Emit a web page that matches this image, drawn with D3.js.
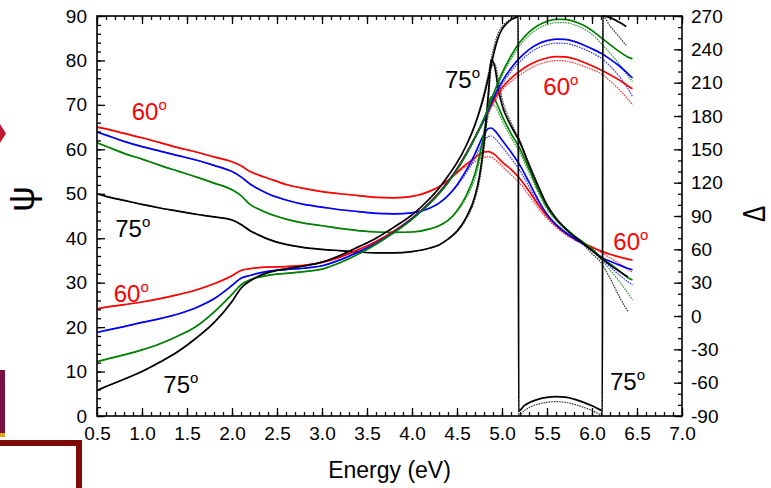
<!DOCTYPE html>
<html>
<head>
<meta charset="utf-8">
<script src="https://cdn.jsdelivr.net/npm/d3@7"></script>
<style>
  html, body { margin: 0; padding: 0; background: #fff; }
  svg { display: block; }
  text { font-family: "Liberation Sans", Arial, sans-serif; }
</style>
</head>
<body>
<svg id="chart" width="771" height="488"></svg>
<script>
// ---------------- DATA ----------------
const energy = [0.5,0.6,0.8,1.0,1.2,1.4,1.6,1.8,2.0,2.1,2.2,2.3,2.4,2.6,2.8,3.0,3.2,3.4,3.6,3.8,4.0,4.2,4.3,4.4,4.5,4.6,4.7,4.75,4.8,4.85,4.88,4.92,4.96,5.0,5.1,5.2,5.3,5.4,5.5,5.6,5.7,5.8,5.9,6.0,6.1,6.2,6.3,6.4,6.45];

// Psi, model (solid)
const psi60 = [65.0,64.6,63.6,62.6,61.5,60.4,59.4,58.3,57.2,56.3,55.0,54.2,53.5,52.1,51.2,50.5,50.0,49.6,49.2,49.1,49.4,50.6,51.6,53.0,54.8,56.6,58.1,58.9,59.4,59.5,59.3,58.8,58.0,57.2,55.5,53.4,50.6,47.6,45.0,42.9,41.2,39.9,38.9,38.0,37.1,36.4,35.8,35.3,35.1];
const psi65 = [63.9,63.2,61.8,60.6,59.6,58.6,57.6,56.4,55.0,53.8,52.2,51.0,50.0,48.6,47.6,47.0,46.4,46.0,45.6,45.5,45.7,46.8,47.9,49.6,52.0,55.2,59.0,61.3,63.4,64.7,64.8,64.2,63.2,62.1,59.4,56.4,52.6,48.7,45.4,43.1,41.4,40.0,38.8,37.5,35.8,34.8,34.0,33.2,32.9];
const psi70 = [61.5,60.7,59.1,57.8,56.4,55.1,53.8,52.4,50.9,49.6,47.6,46.5,45.6,44.3,43.4,42.8,42.2,41.7,41.4,41.3,41.4,42.1,42.8,44.0,46.2,49.5,54.5,58.5,63.8,69.5,71.8,71.2,69.5,67.6,63.6,60.1,55.6,51.0,47.0,44.3,42.3,40.6,39.1,37.6,35.6,34.2,32.7,31.1,30.6];
const psi75 = [50.0,49.4,48.5,47.6,46.8,46.1,45.4,44.8,44.1,43.1,41.7,40.7,39.8,38.6,37.9,37.5,37.2,36.9,36.7,36.7,37.0,37.8,38.5,39.8,41.6,44.6,49.5,54.0,61.5,73.0,80.2,78.5,73.5,70.0,65.3,61.5,56.5,51.8,47.5,44.5,42.3,40.5,38.9,37.2,35.6,34.0,32.6,31.3,null];

// Psi, experiment (dotted)
const psi60Exp = [65.0,64.6,63.6,62.6,61.5,60.4,59.4,58.3,57.2,56.3,55.0,54.2,53.5,52.1,51.2,50.5,50.0,49.6,49.2,49.1,49.4,50.6,51.6,53.0,54.6,56.2,57.2,57.9,58.2,58.3,58.2,57.7,57.0,56.2,54.3,52.3,49.6,46.8,44.4,42.5,40.9,39.7,38.7,37.8,36.8,35.6,34.3,33.0,32.3];
const psi65Exp = [63.9,63.2,61.8,60.6,59.6,58.6,57.6,56.4,55.0,53.8,52.2,51.0,50.0,48.6,47.6,47.0,46.4,46.0,45.6,45.5,45.7,46.8,47.9,49.6,51.8,54.6,58.0,60.0,61.8,62.9,63.0,62.5,61.6,60.6,58.0,55.2,51.6,48.0,45.0,42.8,41.2,39.8,38.6,37.2,35.4,33.6,31.8,30.2,29.5];
const psi70Exp = [61.5,60.7,59.1,57.8,56.4,55.1,53.8,52.4,50.9,49.6,47.6,46.5,45.6,44.3,43.4,42.8,42.2,41.7,41.4,41.3,41.4,42.1,42.8,44.0,46.0,49.0,53.5,57.3,62.3,67.8,70.0,69.8,68.3,66.5,62.7,59.2,54.8,50.4,46.6,44.0,42.0,40.3,38.8,37.2,35.2,32.9,30.4,27.6,26.1];
const psi75Exp = [50.0,49.4,48.5,47.6,46.8,46.1,45.4,44.8,44.1,43.1,41.7,40.7,39.8,38.6,37.9,37.5,37.2,36.9,36.7,36.7,37.0,37.8,38.5,39.8,41.4,44.2,48.8,53.0,60.0,71.0,78.2,79.3,75.5,71.5,66.0,62.0,56.8,52.0,47.6,44.5,42.2,40.3,38.6,36.5,34.5,31.0,27.0,23.5,null];

// Delta, model (solid)
const delta60 = [6.5,8.0,10.2,12.6,15.6,19.2,23.4,29.0,36.2,41.0,42.6,43.6,44.0,44.5,45.6,48.2,53.0,59.5,67.0,76.5,88.0,102.5,111,121,132.5,146,161,169,177,185,190,196,201,205.5,214,220.5,225.8,229.7,232.2,233.4,233.2,231.5,228.6,225.2,221.4,217.2,212.5,207.0,204.5];
const delta65 = [-14.8,-13.0,-9.5,-5.8,-2.4,1.8,7.5,15.5,27.5,34.0,36.5,38.6,40.2,41.8,43.0,45.2,50.5,57.5,65.5,75.5,87.5,102,110.5,120.5,132,145.5,160.5,168.5,177,186,191.5,198.5,205,211,223,232.5,239.8,244.8,247.8,249.2,249.0,247.2,244.2,240.5,236.4,231.2,225.2,218.0,214.2];
const delta70 = [-41.0,-39.0,-35.0,-30.5,-25.0,-18.0,-9.5,3.5,19.5,28.0,32.5,35.0,36.6,38.3,39.9,42.2,48.0,55.5,64.5,75.0,87.0,101.5,110,120,131.5,145,160.5,169,178,188,194.5,203,211,218.5,234,246.5,255.5,261.5,265.2,267.0,267.0,265.2,261.8,257.0,250.6,244.2,238.2,233.0,231.5];

// Delta, experiment (dotted)
const delta60Exp = [6.5,8.0,10.2,12.6,15.6,19.2,23.4,29.0,36.2,41.0,42.6,43.6,44.0,44.5,45.6,48.2,53.0,59.5,67.0,76.5,88.0,102.5,111,121,132.5,146,160.5,168,175.5,183,187.5,193,198,203,211,217,222.3,226.2,228.7,229.8,229.5,227.8,225.0,221.8,218.2,211.5,204,195,190];
const delta65Exp = [-14.8,-13.0,-9.5,-5.8,-2.4,1.8,7.5,15.5,27.5,34.0,36.5,38.6,40.2,41.8,43.0,45.2,50.5,57.5,65.5,75.5,87.5,102,110.5,120.5,132,145.5,160,167.5,175.5,184,189,196,202.5,208.5,220,229,236.2,241.2,244.2,245.6,245.4,243.6,240.6,236.8,232.2,225,216,204.5,197.5];
const delta70Exp = [-41.0,-39.0,-35.0,-30.5,-25.0,-18.0,-9.5,3.5,19.5,28.0,32.5,35.0,36.6,38.3,39.9,42.2,48.0,55.5,64.5,75.0,87.0,101.5,110,120,131.5,145,160,168,176.5,186,192,200.5,208.5,216,231,243.5,252.5,258.5,262.2,264.0,264.0,262.2,258.8,253.5,245.5,236.5,227,216,211];

// Delta at 75 deg (wraps through 270 -> -90 and back)
const energy75 = [0.5,0.6,0.8,1.0,1.2,1.4,1.6,1.8,2.0,2.1,2.2,2.3,2.4,2.6,2.8,3.0,3.2,3.4,3.6,3.8,4.0,4.2,4.3,4.4,4.5,4.6,4.7,4.75,4.8,4.85,4.88,4.92,4.96,5.0,5.05,5.1,5.15,5.18,5.185,5.25,5.3,5.4,5.5,5.6,5.7,5.8,5.9,6.0,6.05,6.1,6.115,6.12,6.2,6.3,6.38];
const delta75 = [-67,-63.5,-57,-50,-41.5,-32,-20,-6,13,25,31.5,36,39,42.5,45,48.5,54.5,62,70,80,91,106,115,126,138,153,172,184,198,215,226,240,251,258,263,266.5,268.5,269.6,-85.5,-80.5,-78,-75,-73.3,-72.6,-73,-74.8,-77.5,-80.8,-82.8,-84.8,-85.3,269.8,268.5,264.5,260.5];
const delta75Exp = [-67,-63.5,-57,-50,-41.5,-32,-20,-6,13,25,31.5,36,39,42.5,45,48.5,54.5,62,70,80,91,106,115,126,138,153,173,186,201,219,231,245,255,260.5,264.5,267.5,269.2,269.9,-89.6,-85,-82.5,-79.3,-77.7,-77.1,-77.6,-79.4,-82,-85,-87,-89,-89.6,269.6,261,251.5,243.5];

// axis ticks
const xMajor = [0.5,1.0,1.5,2.0,2.5,3.0,3.5,4.0,4.5,5.0,5.5,6.0,6.5,7.0];
const psiMajor = [0,10,20,30,40,50,60,70,80,90];
const deltaMajor = [-90,-60,-30,0,30,60,90,120,150,180,210,240,270];

// angle annotations (position in energy / psi units)
const noteText = ["60","75","60","75","75","60","60","75"];
const noteE = [0.886,0.703,0.686,1.237,4.367,5.459,6.237,6.2];
const notePsi = [66.6,40.3,25.7,5.1,73.7,72.2,37.35,5.85];
const noteColor = ["#ff0000","#000000","#ff0000","#000000","#000000","#ff0000","#ff0000","#000000"];

// ---------------- DRAW ----------------
const svg = d3.select("#chart");
const L = 97, R = 682, T = 16, B = 416;
const x = d3.scaleLinear().domain([0.5, 7.0]).range([L, R]);
const yPsi = d3.scaleLinear().domain([0, 90]).range([B, T]);
const yDel = d3.scaleLinear().domain([-90, 270]).range([B, T]);

// decorations at left edge (slide background fragments)
svg.append("path").attr("d", "M0,124 L6,133.5 L0,143 Z").attr("fill", "#c01830");
svg.append("rect").attr("x", 0).attr("y", 370).attr("width", 5).attr("height", 63).attr("fill", "#7a1040");
svg.append("rect").attr("x", 0).attr("y", 433).attr("width", 5).attr("height", 4).attr("fill", "#e8a317");
svg.append("path").attr("d", "M0,443 L79,443 L79,488").attr("fill", "none").attr("stroke", "#7f0a0a").attr("stroke-width", 6);

const colors = { c60: "#ff0000", c65: "#0000ff", c70: "#008000", c75: "#000000" };

const plot = svg.append("g");
function draw(xs, ys, yScale, color, exp) {
  const pts = xs.map((e, i) => [e, ys[i]]);
  const line = d3.line()
    .defined(d => d[1] !== null)
    .x(d => x(d[0])).y(d => yScale(d[1]))
    .curve(d3.curveMonotoneX);
  plot.append("path").datum(pts)
    .attr("d", line)
    .attr("fill", "none")
    .attr("stroke", color)
    .attr("stroke-width", exp ? 1.2 : 1.7)
    .attr("stroke-dasharray", exp ? "1.6,1" : null)
    .attr("stroke-opacity", exp ? 0.8 : 1);
}
// experimental dotted
draw(energy, psi60Exp, yPsi, colors.c60, true);
draw(energy, psi65Exp, yPsi, colors.c65, true);
draw(energy, psi70Exp, yPsi, colors.c70, true);
draw(energy, psi75Exp, yPsi, colors.c75, true);
draw(energy, delta60Exp, yDel, colors.c60, true);
draw(energy, delta65Exp, yDel, colors.c65, true);
draw(energy, delta70Exp, yDel, colors.c70, true);
draw(energy75, delta75Exp, yDel, colors.c75, true);
// model solid
draw(energy, psi60, yPsi, colors.c60, false);
draw(energy, psi65, yPsi, colors.c65, false);
draw(energy, psi70, yPsi, colors.c70, false);
draw(energy, psi75, yPsi, colors.c75, false);
draw(energy, delta60, yDel, colors.c60, false);
draw(energy, delta65, yDel, colors.c65, false);
draw(energy, delta70, yDel, colors.c70, false);
draw(energy75, delta75, yDel, colors.c75, false);

// axes
const fs = 19;
function styleAxis(g) {
  g.select(".domain").remove();
  g.selectAll(".tick line").attr("stroke", "#000").attr("stroke-width", 1.3);
  g.selectAll("text").attr("font-size", fs).attr("fill", "#000")
    .attr("font-family", "'Liberation Sans', Arial, sans-serif");
}
const xMinor = d3.range(5, 71).map(v => v / 10);
const psiMinor = d3.range(0, 91, 2);
const delMinor = d3.range(-90, 271, 10);
const plain = d => String(d);

// bottom
svg.append("g").attr("transform", `translate(0,${B})`)
  .call(d3.axisBottom(x).tickValues(xMinor).tickSizeInner(-4).tickSizeOuter(0).tickFormat(""))
  .call(styleAxis);
svg.append("g").attr("transform", `translate(0,${B})`)
  .call(d3.axisBottom(x).tickValues(xMajor).tickSizeInner(-8).tickSizeOuter(0).tickPadding(11).tickFormat(d3.format(".1f")))
  .call(styleAxis);
// top
svg.append("g").attr("transform", `translate(0,${T})`)
  .call(d3.axisTop(x).tickValues(xMinor).tickSizeInner(-4).tickSizeOuter(0).tickFormat(""))
  .call(styleAxis);
svg.append("g").attr("transform", `translate(0,${T})`)
  .call(d3.axisTop(x).tickValues(xMajor).tickSizeInner(-8).tickSizeOuter(0).tickFormat(""))
  .call(styleAxis);
// left
svg.append("g").attr("transform", `translate(${L},0)`)
  .call(d3.axisLeft(yPsi).tickValues(psiMinor).tickSizeInner(-4).tickSizeOuter(0).tickFormat(""))
  .call(styleAxis);
svg.append("g").attr("transform", `translate(${L},0)`)
  .call(d3.axisLeft(yPsi).tickValues(psiMajor).tickSizeInner(-8).tickSizeOuter(0).tickPadding(10).tickFormat(plain))
  .call(styleAxis);
// right
svg.append("g").attr("transform", `translate(${R},0)`)
  .call(d3.axisRight(yDel).tickValues(delMinor).tickSizeInner(-4).tickSizeOuter(0).tickFormat(""))
  .call(styleAxis);
svg.append("g").attr("transform", `translate(${R},0)`)
  .call(d3.axisRight(yDel).tickValues(deltaMajor).tickSizeInner(-8).tickSizeOuter(0).tickPadding(9).tickFormat(plain))
  .call(styleAxis);

// frame
svg.append("rect").attr("x", L).attr("y", T).attr("width", R - L).attr("height", B - T)
  .attr("fill", "none").attr("stroke", "#000").attr("stroke-width", 1.6);

// axis titles
svg.append("text").attr("x", (L + R) / 2).attr("y", 478).attr("text-anchor", "middle")
  .attr("font-size", 23).text("Energy (eV)");
svg.append("text").attr("transform", "translate(34,199) rotate(-90)").attr("text-anchor", "middle")
  .attr("font-size", 36).text("ψ");
svg.append("text").attr("transform", "translate(765,214) rotate(-90) scale(0.78,1)").attr("text-anchor", "middle")
  .attr("font-size", 31).text("Δ");

noteText.forEach((t, i) => {
  const tx = svg.append("text").attr("x", x(noteE[i])).attr("y", yPsi(notePsi[i]))
    .attr("fill", noteColor[i]).attr("font-size", 24);
  tx.append("tspan").text(t);
  tx.append("tspan").attr("font-size", 15).attr("dy", -10).text("o");
});
</script>
</body>
</html>
